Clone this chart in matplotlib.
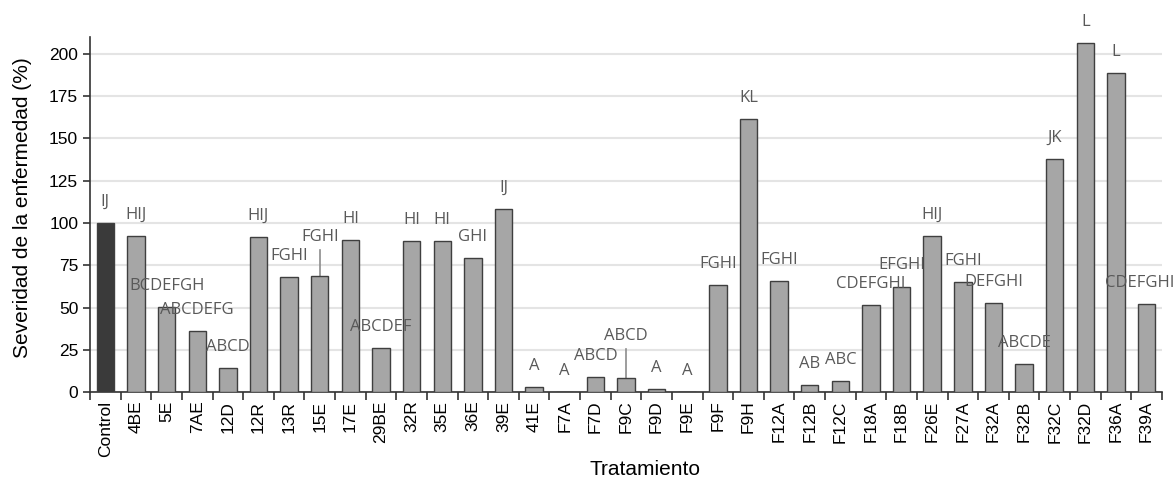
import matplotlib.pyplot as plt
import numpy as np

# treatments and disease severity (% of control)
tratamientos = ['Control', '4BE', '5E', '7AE', '12D', '12R', '13R', '15E', '17E', '29BE',
                '32R', '35E', '36E', '39E', '41E', 'F7A', 'F7D', 'F9C', 'F9D', 'F9E',
                'F9F', 'F9H', 'F12A', 'F12B', 'F12C', 'F18A', 'F18B', 'F26E', 'F27A',
                'F32A', 'F32B', 'F32C', 'F32D', 'F36A', 'F39A']
severidad = [100, 92.4, 50.5, 36.3, 14.5, 91.6, 68.0, 68.8, 89.9, 26.3,
             89.3, 89.3, 79.2, 108.1, 3.1, 0, 9.2, 8.4, 2.1, 0,
             63.5, 161.2, 65.7, 4.5, 6.7, 51.3, 62.5, 92.2, 65.1,
             52.9, 16.5, 137.6, 206.5, 188.4, 52.1]
letras = ['IJ', 'HIJ', 'BCDEFGH', 'ABCDEFG', 'ABCD', 'HIJ', 'FGHI', 'FGHI', 'HI', 'ABCDEF',
          'HI', 'HI', 'GHI', 'IJ', 'A', 'A', 'ABCD', 'ABCD', 'A', 'A',
          'FGHI', 'KL', 'FGHI', 'AB', 'ABC', 'CDEFGHI', 'EFGHI', 'HIJ', 'FGHI',
          'DEFGHI', 'ABCDE', 'JK', 'L', 'L', 'CDEFGHI']

# labels pulled up with a short leader line
con_linea = {'15E': 92, 'F9C': 33.5}
# last label nudged left so it stays inside the figure
desplazar = {'F39A': -0.23}

fig = plt.figure(figsize=(11.74, 4.79), dpi=100)
ax = fig.add_axes([0.0767, 0.181, 0.913, 0.742])

x = np.arange(len(tratamientos))
colores = ['#3a3a3a'] + ['#a6a6a6'] * (len(tratamientos) - 1)
ax.bar(x, severidad, width=0.57, color=colores, edgecolor='#3f3f3f', linewidth=1, zorder=3)

for i, (t, v, l) in enumerate(zip(tratamientos, severidad, letras)):
    if t in con_linea:
        y = con_linea[t]
        ax.plot([i, i], [v, y - 8], color='#8c8c8c', linewidth=1.2, zorder=2)
    else:
        y = v + 12.5
    ax.text(i + desplazar.get(t, 0), y, l, ha='center', va='center', fontsize=12,
            color='#595959', family='Open Sans', clip_on=False, zorder=5)

ax.set_xlim(-0.5, len(tratamientos) - 0.5)
ax.set_ylim(0, 210)
ax.set_yticks(np.arange(0, 201, 25))
ax.set_xticks(x)
ax.set_xticklabels(tratamientos, rotation=90, fontsize=12.5, family='Liberation Sans')
ax.set_xticks(np.arange(-0.5, len(tratamientos), 1), minor=True)
ax.tick_params(axis='x', which='major', length=0, pad=6)
ax.tick_params(axis='x', which='minor', length=6, width=1.2, color='#333333')
ax.tick_params(axis='y', length=5, width=1.2, color='#333333', labelsize=12.5)
for lab in ax.get_yticklabels():
    lab.set_family('Liberation Sans')

ax.grid(axis='y', color='#e4e4e4', linewidth=1.5, zorder=0)
for s in ['top', 'right']:
    ax.spines[s].set_visible(False)
for s in ['left', 'bottom']:
    ax.spines[s].set_color('#333333')
    ax.spines[s].set_linewidth(1.2)

ax.set_ylabel('Severidad de la enfermedad (%)', fontsize=15, family='Liberation Sans')
ax.set_xlabel('Tratamiento', fontsize=15, family='Liberation Sans')
ax.xaxis.set_label_coords(0.518, -0.19)
ax.yaxis.set_label_coords(-0.054, 0.52)

fig.savefig('out.png', dpi=100)
